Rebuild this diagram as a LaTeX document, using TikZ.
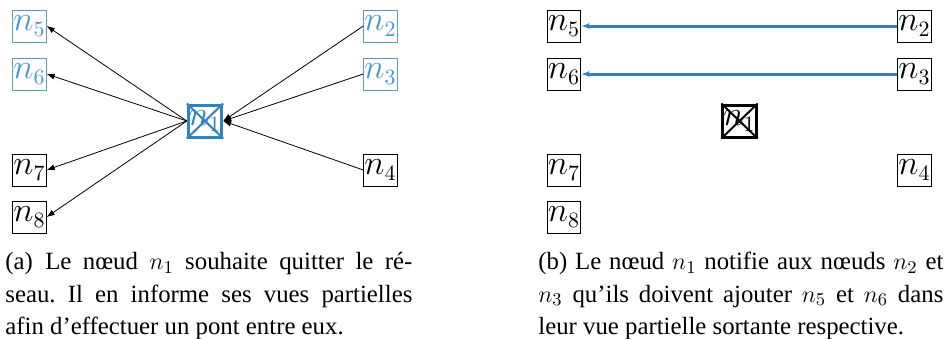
\documentclass[tikz,border=0pt]{standalone}
\usepackage{fontspec}
\setmainfont{Liberation Serif}
\usepackage{xcolor}
\usetikzlibrary{arrows.meta}

\definecolor{vueblue}{RGB}{49,130,189}

\begin{document}
\frenchspacing
\begin{tikzpicture}[x=0.5pt, y=-0.5pt,
    peer/.style={draw, line width=0.5pt, inner sep=0.3pt,
        minimum width=16.5pt, minimum height=16pt,
        font=\fontsize{16}{16}\selectfont},
    vue/.style={peer, draw=vueblue!80, text=vueblue!85},
    sortant/.style={peer, line width=1.5pt},
    legende/.style={anchor=north west, inner sep=0pt, text width=#1,
        align=justify, font=\fontsize{12.4}{16.25}\selectfont},
    >={Latex[length=4pt, width=3pt]}]

        \useasboundingbox (0,0) rectangle (948,338);

        %% ── (a) n1 quitte le réseau ───────────────────────────────────────
        \node[sortant, draw=vueblue, text=vueblue] (a1) at (205,121) {$n_1$};
        \draw[vueblue, line width=1pt]
            (a1.north west) -- (a1.south east)
            (a1.north east) -- (a1.south west);

        \node[vue]  (a5) at (29.5,26)  {$n_5$};
        \node[vue]  (a6) at (29.5,74)  {$n_6$};
        \node[peer] (a7) at (29.5,170) {$n_7$};
        \node[peer] (a8) at (29.5,217) {$n_8$};

        \node[vue]  (a2) at (380.5,26)  {$n_2$};
        \node[vue]  (a3) at (380.5,74)  {$n_3$};
        \node[peer] (a4) at (380.5,170) {$n_4$};

        \draw[->] (a1.west) -- (a5.east);
        \draw[->] (a1.west) -- (a6.east);
        \draw[->] (a1.west) -- (a7.east);
        \draw[->] (a1.west) -- (a8.east);
        \draw[->] (a2.west) -- (a1.east);
        \draw[->] (a3.west) -- (a1.east);
        \draw[->] (a4.west) -- (a1.east);

        \node[legende=203.5pt] (capa) at (5,252)
            {(a)\enspace Le nœud $n_1$ souhaite quitter le ré-\linebreak
             seau. Il en informe ses vues partielles\linebreak
             afin d’effectuer un pont entre eux.};

        %% ── (b) notification de n2 et n3 ──────────────────────────────────
        \node[sortant] (b1) at (739.5,121) {$n_1$};
        \draw[line width=1pt]
            (b1.north west) -- (b1.south east)
            (b1.north east) -- (b1.south west);

        \node[peer] (b5) at (564,26)  {$n_5$};
        \node[peer] (b6) at (564,74)  {$n_6$};
        \node[peer] (b7) at (564,170) {$n_7$};
        \node[peer] (b8) at (564,217) {$n_8$};

        \node[peer] (b2) at (914.5,26)  {$n_2$};
        \node[peer] (b3) at (914.5,74)  {$n_3$};
        \node[peer] (b4) at (914.5,170) {$n_4$};

        \draw[->, vueblue, line width=1.5pt] (b2.west) -- (b5.east);
        \draw[->, vueblue, line width=1.5pt] (b3.west) -- (b6.east);

        \node[legende=202.5pt] (capb) at (538,252)
            {(b) Le nœud $n_1$ notifie aux nœuds $n_2$ et\linebreak
             $n_3$ qu’ils doivent ajouter $n_5$ et $n_6$ dans\linebreak
             leur vue partielle sortante respective.};

    \end{tikzpicture}
\end{document}
